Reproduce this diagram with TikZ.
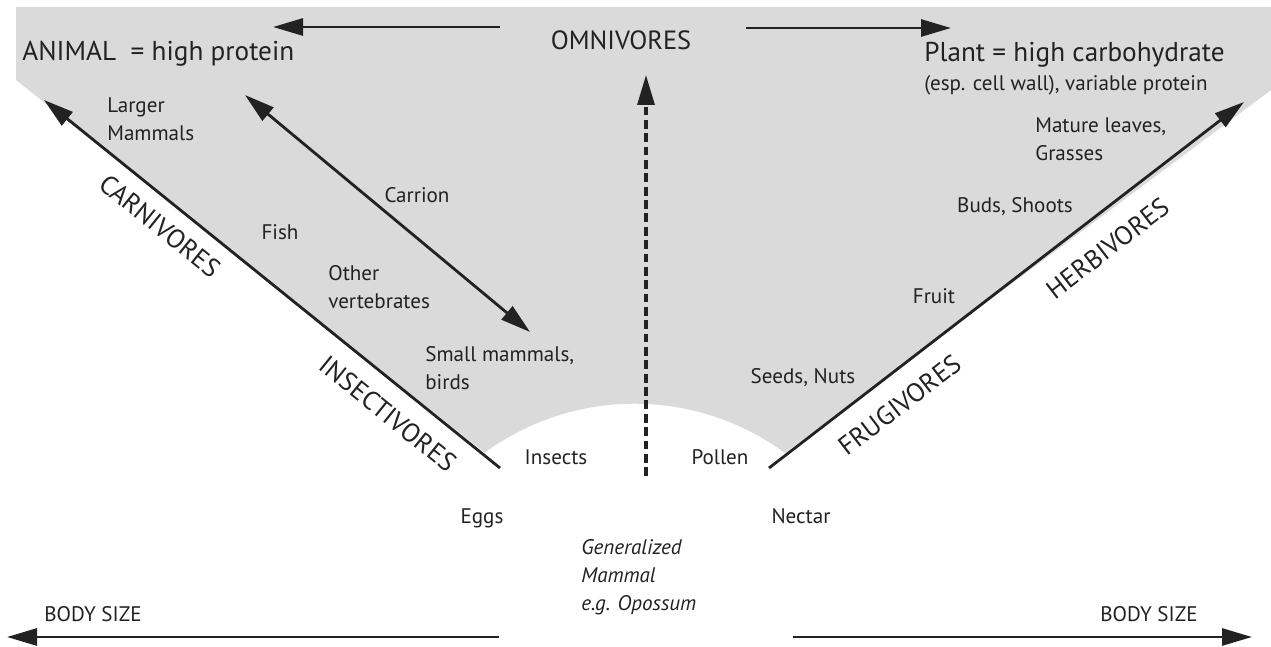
\documentclass[tikz,border=0pt]{standalone}
\usepackage{fontspec}
\setmainfont{PT Sans}
\usepackage{tikz}
\usetikzlibrary{arrows.meta}
\definecolor{bggrey}{HTML}{DADADA}
\definecolor{ink}{HTML}{222222}

\tikzset{
  food/.style={font=\fontsize{12}{16}\selectfont, text=ink, align=left, inner sep=0pt},
  group/.style={font=\fontsize{15}{17}\selectfont, text=ink, inner sep=0pt},
  axis/.style={line width=1.6pt, draw=ink, -{Triangle[length=6mm, width=3.4mm]}},
}

\begin{document}
\begin{tikzpicture}
  \useasboundingbox (0,0) rectangle (25.42,12.92);

  % Shaded food space
  \fill[bggrey] (0.32,12.78) -- (25.42,12.78) -- (25.42,11.12) -- (15.70,3.86)
    arc[start angle=53.7, end angle=126.2, radius=5.08] -- (0.32,11.32) -- cycle;

  % Diet axes
  \coordinate (Lbot) at (10.00,3.56);
  \coordinate (Ltop) at (0.88,10.92);
  \coordinate (Rbot) at (15.38,3.56);
  \coordinate (Rtop) at (24.88,10.88);
  \draw[axis] (Lbot) -- (Ltop);
  \draw[axis] (Rbot) -- (Rtop);

  % Carrion
  \coordinate (Cup) at (4.90,11.02);
  \coordinate (Cdown) at (10.60,6.28);
  \draw[axis, {Triangle[length=6mm, width=3.4mm]}-{Triangle[length=6mm, width=3.4mm]}] (Cup) -- (Cdown);

  % Omnivores
  \coordinate (Obot) at (12.92,3.40);
  \coordinate (Otop) at (12.92,11.42);
  \draw[axis, line width=1.8pt, dash pattern=on 5pt off 2.6pt] (Obot) -- (Otop);
  \node[group] (omni) at (12.42,12.12) {OMNIVORES};
  \coordinate (TLa) at (10.00,12.38);
  \coordinate (TLb) at (5.46,12.38);
  \coordinate (TRa) at (14.92,12.36);
  \coordinate (TRb) at (19.02,12.36);
  \draw[axis] (TLa) -- (TLb);
  \draw[axis] (TRa) -- (TRb);

  % Headings
  \node[group, anchor=west, font=\fontsize{15.5}{17}\selectfont] (animal) at (0.44,11.84) {ANIMAL~ = high protein};
  \node[group, anchor=west, font=\fontsize{15.5}{17}\selectfont] (plant) at (18.48,11.82) {Plant = high carbohydrate};
  \node[food, anchor=west] (plant2) at (18.48,11.22) {(esp. cell wall), variable protein};

  % Animal foods
  \node[food, anchor=west] (large) at (2.14,10.54) {Larger\\Mammals};
  \node[food] (carrion) at (8.34,9.02) {Carrion};
  \node[food] (fish) at (5.60,8.28) {Fish};
  \node[food, anchor=west] (verts) at (6.56,7.18) {Other\\vertebrates};
  \node[food, anchor=west] (small) at (8.50,5.56) {Small mammals,\\birds};
  \node[food] (insects) at (11.12,3.78) {Insects};
  \node[food] (eggs) at (9.64,2.56) {Eggs};

  % Plant foods
  \node[food] (pollen) at (14.40,3.78) {Pollen};
  \node[food] (nectar) at (16.02,2.60) {Nectar};
  \node[food] (seeds) at (16.06,5.36) {Seeds, Nuts};
  \node[food] (fruit) at (18.68,7.00) {Fruit};
  \node[food] (buds) at (20.30,8.78) {Buds, Shoots};
  \node[food, anchor=west] (leaves) at (20.70,10.14) {Mature leaves,\\Grasses};

  % Generalist
  \node[food, font=\fontsize{12}{16}\selectfont\itshape, anchor=west] (gen) at (11.62,1.38)
    {Generalized\\Mammal\\e.g. Opossum};

  % Guild labels
  \node[group, rotate=-38.9] (carn) at (3.20,8.40) {CARNIVORES};
  \node[group, rotate=-38.9] (insect) at (7.76,4.64) {INSECTIVORES};
  \node[group, rotate=37.6] (herb) at (22.16,7.96) {HERBIVORES};
  \node[group, rotate=37.6] (frug) at (18.00,4.82) {FRUGIVORES};

  % Body size
  \coordinate (BLa) at (9.98,0.18);
  \coordinate (BLb) at (0.14,0.18);
  \coordinate (BRa) at (15.86,0.18);
  \coordinate (BRb) at (25.04,0.18);
  \draw[axis] (BLa) -- (BLb);
  \draw[axis] (BRa) -- (BRb);
  \node[food] (sizeL) at (1.86,0.64) {BODY SIZE};
  \node[food] (sizeR) at (22.98,0.64) {BODY SIZE};

\end{tikzpicture}
\end{document}
